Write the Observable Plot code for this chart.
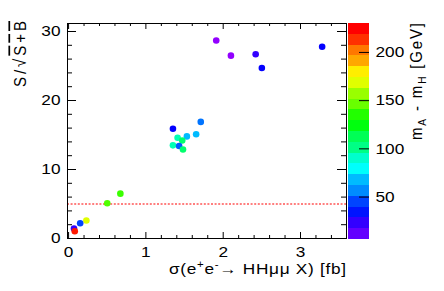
<!DOCTYPE html>
<html><head><meta charset="utf-8">
<script src="https://cdn.jsdelivr.net/npm/d3@7"></script>
<script src="https://cdn.jsdelivr.net/npm/@observablehq/plot@0.6"></script>
<style>
body{margin:0;background:#fff;}
#wrap{position:relative;width:444px;height:291px;}
#wrap svg{position:absolute;top:0;}
</style></head><body><div id="wrap"></div>
<script>
// ---- data ----
const xsec     = [1.91, 2.10, 2.42, 2.50, 3.28, 1.35, 1.71, 1.65, 1.53, 1.41, 1.47, 1.35, 1.43, 1.48, 0.67, 0.50, 0.23, 0.15, 0.07, 0.08];
const signif   = [28.7, 26.5, 26.7, 24.7, 27.8, 15.9, 16.9, 15.1, 14.8, 14.6, 14.2, 13.5, 13.4, 12.9, 6.5, 5.1, 2.6, 2.2, 1.45, 1.06];
const massDiff = [8, 8, 26, 37, 37, 37, 59, 71, 71, 96, 111, 96, 53, 111, 143, 148, 174, 50, 26, 225];
const xTicks = [0, 1, 2, 3];
const yTicks = [0, 10, 20, 30];
const zTicks = [50, 100, 150, 200];
const cutLine = [5];
const xDomain = [-0.014, 3.595];
const yDomain = [0, 31.16];
const zDomain = [6, 230];

// ---- ROOT "pretty" palette (50 colours, violet -> red) ----
const palette = d3.range(50).map(k => d3.hsl(280 - (k + 1) * 5.6, 1, 0.5).formatHex());
const zStep50 = (zDomain[1] - zDomain[0]) / 50;
const thr50 = d3.range(1, 50).map(i => zDomain[0] + i * zStep50);
const nBands = 20;
const bandStep = (zDomain[1] - zDomain[0]) / nBands;
const thr20 = d3.range(1, nBands).map(i => zDomain[0] + i * bandStep);
const pal20 = d3.range(nBands).map(i => palette[Math.floor(0.01 + (i + 0.99) * 50 / nBands)]);
const bands = d3.range(nBands).map(i => ({lo: zDomain[0] + i * bandStep, hi: zDomain[0] + (i + 1) * bandStep}));

const FONT = "Liberation Sans, Arial, Helvetica, sans-serif";
const SX = 1.15; // horizontal stretch of the reference's glyphs
const W = 444, H = 291;
const fL = 67, fR = 346, fT = 23, fB = 238;
const pw = fR - fL, ph = fB - fT;

const xMinor = d3.range(0, 3.5, 0.2).map(v => +v.toFixed(2)).filter(v => !xTicks.includes(v));
const yMinor = d3.range(0, 31, 2).filter(v => !yTicks.includes(v));

const main = Plot.plot({
  width: W, height: H,
  marginLeft: fL, marginRight: W - fR, marginTop: fT, marginBottom: H - fB,
  style: {fontFamily: FONT, fontSize: "15px", color: "black", background: "transparent"},
  x: {domain: xDomain},
  y: {domain: yDomain},
  color: {type: "threshold", domain: thr50, range: palette},
  marks: [
    Plot.ruleY(cutLine, {stroke: "#ff0000", strokeWidth: 1.1, strokeDasharray: "2,1.6"}),
    Plot.dot(d3.range(xsec.length), {x: xsec, y: signif, fill: massDiff, r: 3.3}),
    Plot.ruleX(xTicks, {insetTop: ph - 6, stroke: "black"}),
    Plot.ruleX(xTicks, {insetBottom: ph - 6, stroke: "black"}),
    Plot.ruleX(xMinor, {insetTop: ph - 3, stroke: "black"}),
    Plot.ruleX(xMinor, {insetBottom: ph - 3, stroke: "black"}),
    Plot.ruleY(yTicks, {insetRight: pw - 9, stroke: "black"}),
    Plot.ruleY(yTicks, {insetLeft: pw - 9, stroke: "black"}),
    Plot.ruleY(yMinor, {insetRight: pw - 5, stroke: "black"}),
    Plot.ruleY(yMinor, {insetLeft: pw - 5, stroke: "black"}),
    Plot.axisX(xTicks, {tickSize: 0, tickPadding: 8, fontSize: 15, tickFormat: d => String(d), label: null}),
    Plot.axisY(yTicks, {tickSize: 0, tickPadding: 7, fontSize: 15, tickFormat: d => String(d), label: null}),
    Plot.frame({stroke: "black", strokeWidth: 1})
  ]
});
main.style.left = "0px";
document.getElementById("wrap").appendChild(main);

const cbL = 348, cbW = 21, cbT = 23, cbB = 239;
const cbWidth = W - cbL;
const bar = Plot.plot({
  width: cbWidth, height: H,
  marginLeft: 0, marginRight: cbWidth - cbW, marginTop: cbT, marginBottom: H - cbB,
  style: {fontFamily: FONT, fontSize: "15px", color: "black", background: "transparent"},
  x: {domain: [0, 1], axis: null},
  y: {domain: zDomain},
  color: {type: "threshold", domain: thr20, range: pal20},
  marks: [
    Plot.rect(bands, {x1: 0, x2: 1, y1: "lo", y2: "hi", fill: d => (d.lo + d.hi) / 2, shapeRendering: "crispEdges"}),
    Plot.ruleY(zTicks, {insetLeft: cbW - 10, stroke: "black", strokeWidth: 1}),
    Plot.axisY(zTicks, {anchor: "right", tickSize: 0, tickPadding: 6, fontSize: 15, label: null})
  ]
});
bar.style.left = cbL + "px";
document.getElementById("wrap").appendChild(bar);

// stretch tick labels horizontally like the reference
[main, bar].forEach(svg => {
  d3.select(svg).selectAll('g[aria-label$="tick label"] text').each(function () {
    const t = this.getAttribute("transform") || "";
    this.setAttribute("transform", t + ` scale(${SX},1)`);
  });
});

// ---- titles (real text) ----
const svgM = d3.select(main);
const xt = svgM.append("text")
  .attr("transform", `translate(${fR},273.5) scale(${SX},1)`).attr("text-anchor", "end")
  .attr("font-family", FONT).attr("font-size", 15).attr("fill", "black")
  .attr("textLength", 177 / SX).attr("lengthAdjust", "spacing");
xt.append("tspan").text("σ(e");
xt.append("tspan").attr("dy", -6).attr("font-size", 10).text("+");
xt.append("tspan").attr("dy", 6).text("e");
xt.append("tspan").attr("dy", -6).attr("font-size", 10).text("-");
xt.append("tspan").attr("dy", 6).text("→ HHμμ X) [fb]");

const yt = svgM.append("text")
  .attr("transform", `translate(25.5,21) scale(${SX},1) rotate(-90)`).attr("text-anchor", "end")
  .attr("font-family", FONT).attr("font-size", 15).attr("fill", "black")
  .attr("textLength", 66).attr("lengthAdjust", "spacing");
yt.append("tspan").text("S/√");
yt.append("tspan").style("text-decoration", "overline").text("S+B");

const svgB = d3.select(bar);
const zt = svgB.append("text")
  .attr("transform", `translate(${421.5 - cbL},23) scale(${SX},1) rotate(-90)`).attr("text-anchor", "end")
  .attr("font-family", FONT).attr("font-size", 15).attr("fill", "black")
  .attr("textLength", 117).attr("lengthAdjust", "spacing");
zt.append("tspan").text("m");
zt.append("tspan").attr("dy", 4).attr("font-size", 10).text("A");
zt.append("tspan").attr("dy", -4).text(" - m");
zt.append("tspan").attr("dy", 4).attr("font-size", 10).text("H");
zt.append("tspan").attr("dy", -4).text(" [GeV]");
</script>
</body></html>
